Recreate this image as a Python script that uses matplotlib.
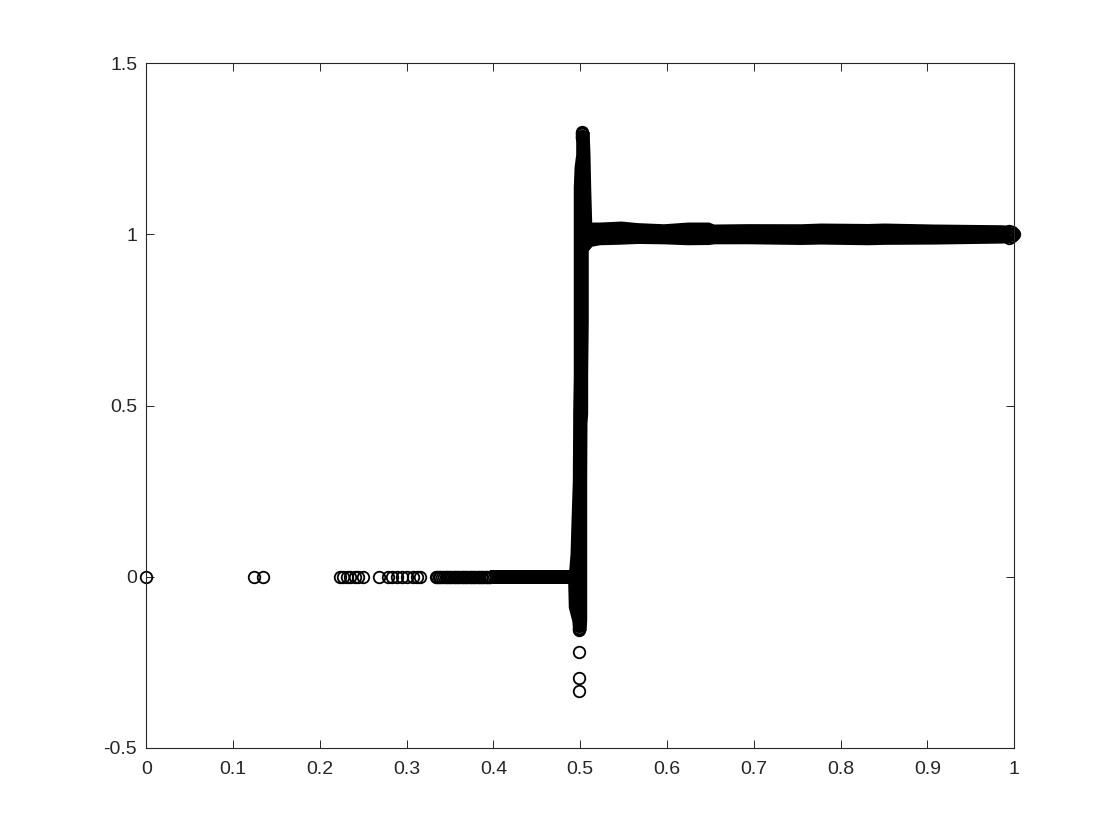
import matplotlib
matplotlib.use('Agg')
import matplotlib.pyplot as plt

plt.rcParams['font.family'] = ['Liberation Sans', 'DejaVu Sans']

# 单独可辨认的圆圈
ring_x = [0.0, 0.1242, 0.1342, 0.2233, 0.2271, 0.2310, 0.2348, 0.2406, 0.2444, 0.2501,
          0.2685, 0.2789, 0.2828, 0.2886, 0.2943, 0.3005, 0.3077, 0.3123, 0.3154,
          0.3339, 0.3355, 0.3371, 0.3387, 0.3403, 0.3431, 0.3450, 0.3468, 0.3485,
          0.3505, 0.3522, 0.3541, 0.3560, 0.3577, 0.3597, 0.3614, 0.3633, 0.3652,
          0.3669, 0.3689, 0.3706, 0.3725, 0.3744, 0.3761, 0.3781, 0.3798, 0.3817,
          0.3836, 0.3853, 0.3873, 0.3890, 0.3909, 0.3928, 0.3945, 0.3965]
ring_y = [0.0] * len(ring_x)

low_x = [0.4990, 0.4990, 0.4990]
low_y = [-0.2201, -0.2949, -0.3340]

# 竖条两端和右端的圆圈
top_x = [0.5026, 0.5026, 0.5026, 0.5026, 0.5026, 0.5026]
top_y = [1.300, 1.296, 1.292, 1.288, 1.284, 1.280]
bottom_x = [0.4990, 0.4990, 0.4990, 0.4990, 0.4990, 0.4990]
bottom_y = [-0.1568, -0.1528, -0.1488, -0.1448, -0.1408, -0.1368]
end_x = [1.0, 0.9985, 0.997, 0.9955, 0.994, 0.9925, 0.991, 0.9975, 0.9975, 0.994, 0.994]
end_y = [1.0, 1.0, 1.0, 1.0, 1.0, 1.0, 1.0, 1.006, 0.994, 1.010, 0.990]

# 点太密、已经连成黑色的部分，只能读出上下边界
right_x = [0.500, 0.5120, 0.5225, 0.5470, 0.5660, 0.5960, 0.6240, 0.6480, 0.6540,
           0.6930, 0.7540, 0.7770, 0.8310, 0.8500, 0.9075, 0.9850, 0.9960]
right_top = [1.0357, 1.0357, 1.0357, 1.0386, 1.0340, 1.0307, 1.0357, 1.0357, 1.0299,
             1.0310, 1.0307, 1.0328, 1.0315, 1.0328, 1.0299, 1.0278, 1.0260]
right_bottom = [0.9645, 0.9645, 0.9693, 0.9710, 0.9731, 0.9720, 0.9693, 0.9700, 0.9720,
                0.9722, 0.9701, 0.9713, 0.9693, 0.9705, 0.9713, 0.9742, 0.9750]

left_x = [0.396, 0.420, 0.450, 0.480, 0.495]
left_top = [0.0201, 0.0201, 0.0201, 0.0201, 0.0201]
left_bottom = [-0.0201, -0.0201, -0.0201, -0.0201, -0.0201]

spine_y = [1.300, 1.2855, 1.234, 1.196, 1.1375, 1.040, 0.9645, 0.9527, 0.8456, 0.7483,
           0.5848, 0.4768, 0.4476, 0.2812, 0.1644, 0.068, 0.027, -0.0196, -0.0896,
           -0.1276, -0.1568]
spine_left = [0.4948, 0.4948, 0.4948, 0.4929, 0.4920, 0.4920, 0.4920, 0.4920, 0.4920, 0.4920,
              0.4920, 0.4913, 0.4913, 0.4909, 0.4894, 0.4883, 0.4870, 0.4856, 0.4863,
              0.4902, 0.4920]
spine_right = [0.5105, 0.5105, 0.5113, 0.5116, 0.5121, 0.5132, 0.5132, 0.5093, 0.5093, 0.5093,
               0.5086, 0.5086, 0.5078, 0.5075, 0.5075, 0.5075, 0.5075, 0.5075, 0.5075,
               0.5075, 0.5067]

x_ticks = [0, 0.1, 0.2, 0.3, 0.4, 0.5, 0.6, 0.7, 0.8, 0.9, 1]
x_labels = ['0', '0.1', '0.2', '0.3', '0.4', '0.5', '0.6', '0.7', '0.8', '0.9', '1']
y_ticks = [-0.5, 0, 0.5, 1, 1.5]
y_labels = ['-0.5', '0', '0.5', '1', '1.5']

axis_color = '#262626'

fig = plt.figure(figsize=(11.2, 8.4), dpi=100)
ax = fig.add_axes([146.2 / 1120, 1 - 748 / 840, 868 / 1120, 685 / 840])

# 连成一片的部分
ax.fill_between(right_x, right_bottom, right_top, color='black', lw=0, clip_on=False)
ax.fill_between(left_x, left_bottom, left_top, color='black', lw=0)
ax.fill_betweenx(spine_y, spine_left, spine_right, color='black', lw=0)


def rings(x, y):
    ax.plot(x, y, linestyle='none', marker='o', markersize=8.3, markerfacecolor='none',
            markeredgecolor='black', markeredgewidth=1.3, clip_on=False)


rings(ring_x, ring_y)
rings(low_x, low_y)
rings(top_x, top_y)
rings(bottom_x, bottom_y)
rings(end_x, end_y)

ax.set_xlim(0, 1)
ax.set_ylim(-0.5, 1.5)
ax.set_xticks(x_ticks)
ax.set_xticklabels(x_labels)
ax.set_yticks(y_ticks)
ax.set_yticklabels(y_labels)
ax.tick_params(direction='in', length=6, width=0.7, color=axis_color, labelcolor=axis_color,
               labelsize=14, top=True, right=True, pad=9.5)
ax.tick_params(axis='y', pad=6.5)
for side in ax.spines.values():
    side.set_linewidth(0.8)
    side.set_color(axis_color)

fig.savefig('out.png', dpi=100)
plt.close(fig)
